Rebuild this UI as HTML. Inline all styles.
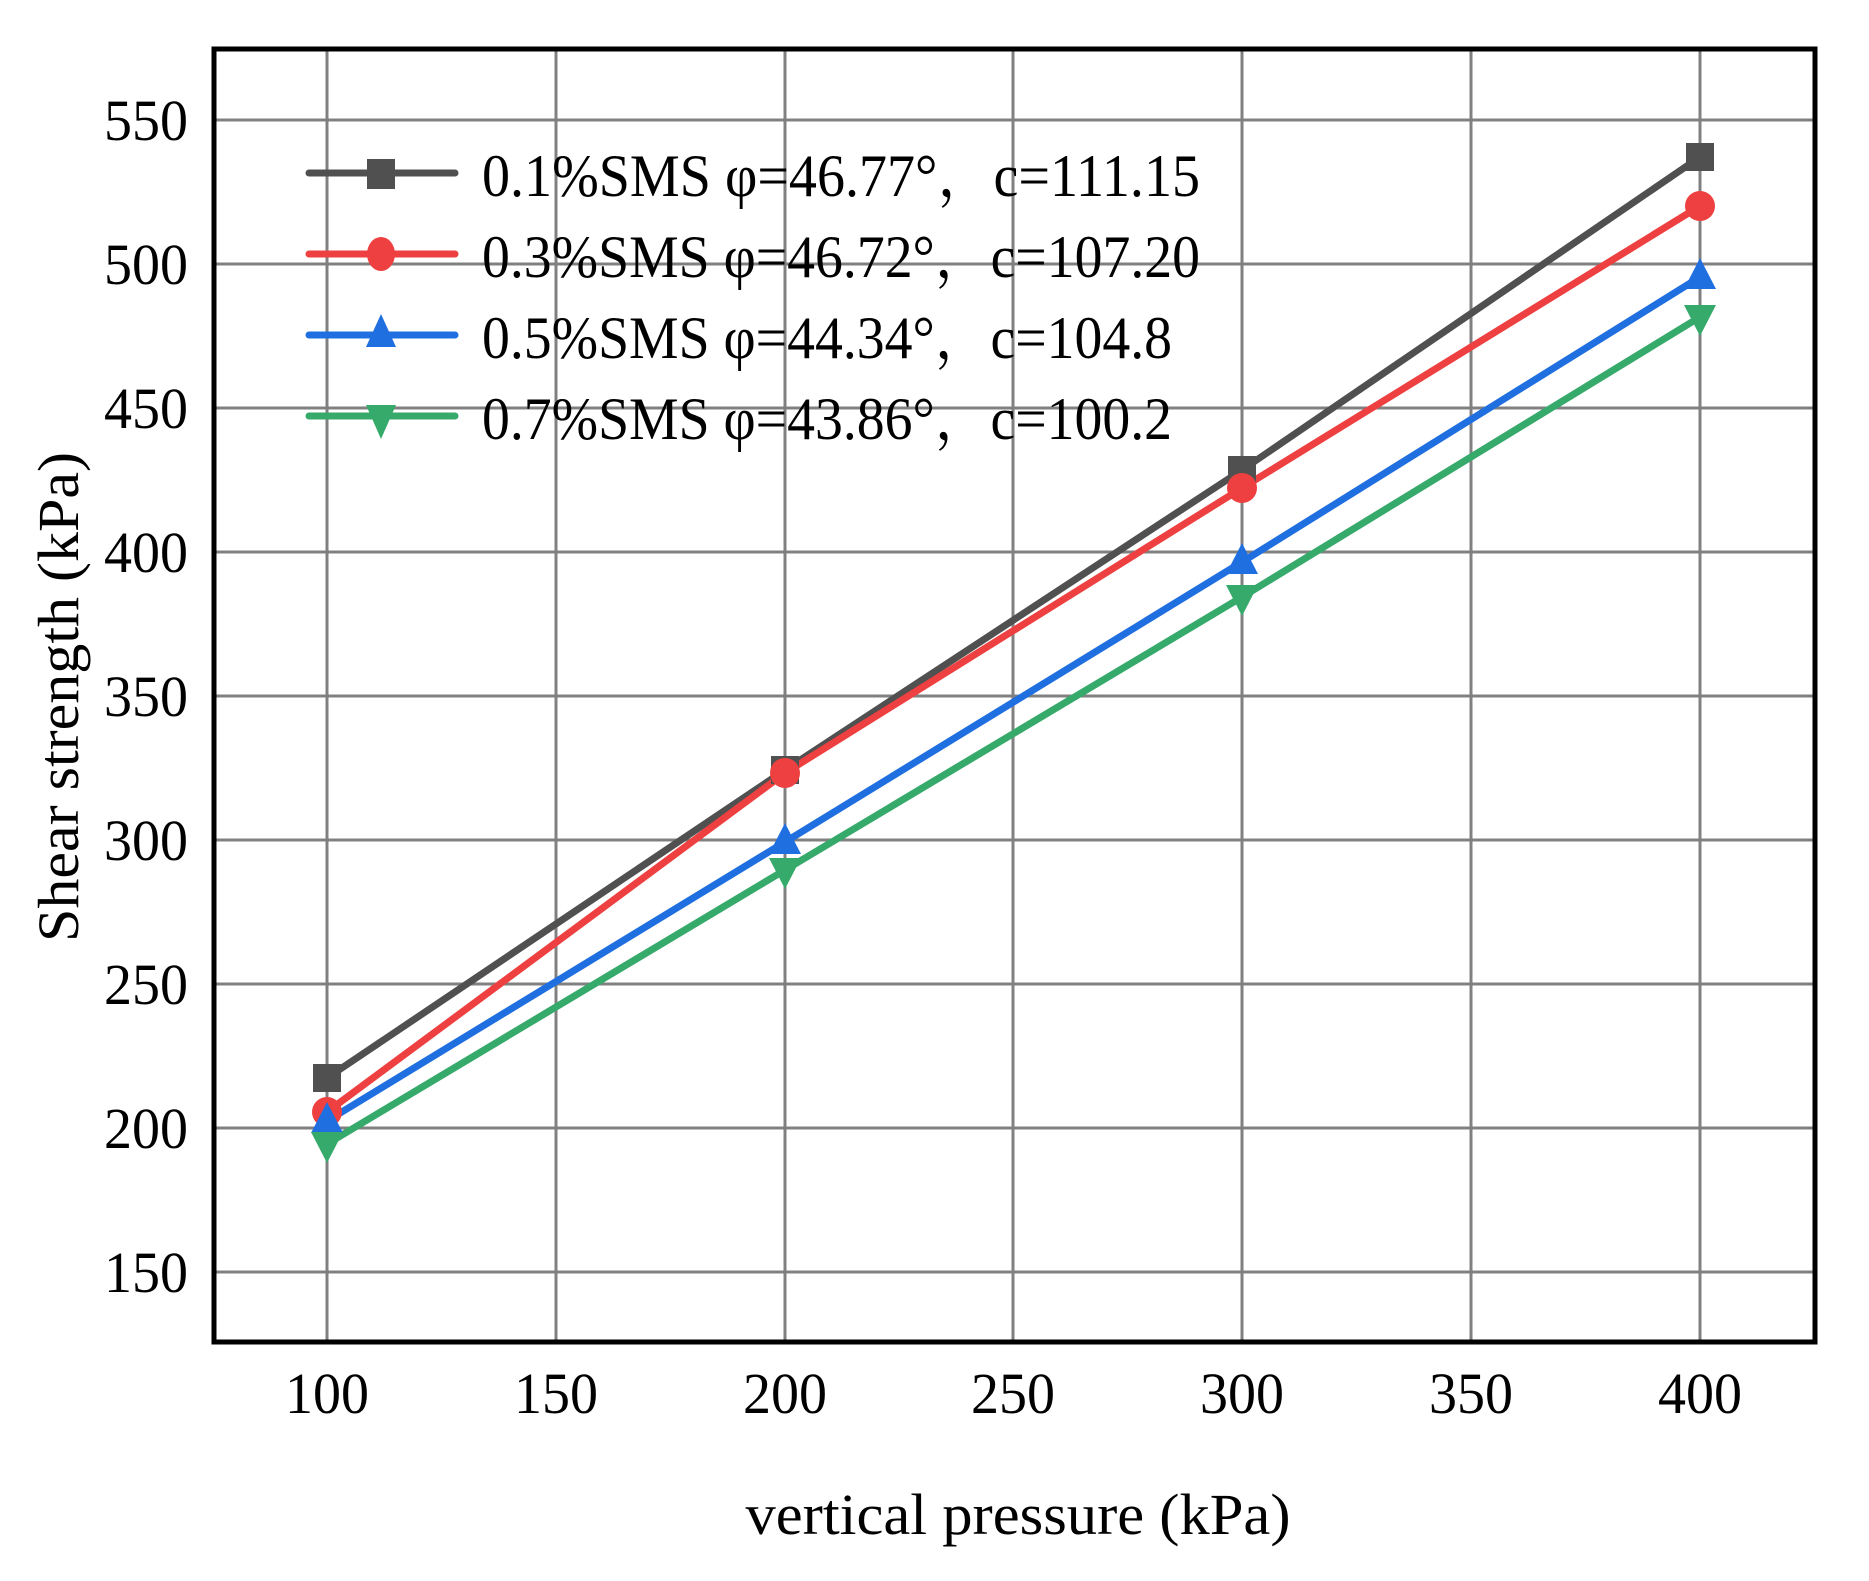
<!DOCTYPE html>
<html><head><style>html,body{margin:0;padding:0;background:#fff}</style></head>
<body>
<svg width="1869" height="1576" viewBox="0 0 1869 1576" xmlns="http://www.w3.org/2000/svg" font-family="Liberation Serif, serif">
<rect width="1869" height="1576" fill="#fff"/>
<g stroke="#808080" stroke-width="3">
<line x1="327" y1="49" x2="327" y2="1342"/>
<line x1="556" y1="49" x2="556" y2="1342"/>
<line x1="785" y1="49" x2="785" y2="1342"/>
<line x1="1013" y1="49" x2="1013" y2="1342"/>
<line x1="1242" y1="49" x2="1242" y2="1342"/>
<line x1="1471" y1="49" x2="1471" y2="1342"/>
<line x1="1700" y1="49" x2="1700" y2="1342"/>
<line x1="214" y1="120" x2="1815" y2="120"/>
<line x1="214" y1="264" x2="1815" y2="264"/>
<line x1="214" y1="408" x2="1815" y2="408"/>
<line x1="214" y1="552" x2="1815" y2="552"/>
<line x1="214" y1="696" x2="1815" y2="696"/>
<line x1="214" y1="840" x2="1815" y2="840"/>
<line x1="214" y1="984" x2="1815" y2="984"/>
<line x1="214" y1="1128" x2="1815" y2="1128"/>
<line x1="214" y1="1272" x2="1815" y2="1272"/>
</g>
<rect x="214" y="49" width="1601" height="1293" fill="none" stroke="#000" stroke-width="5"/>
<g font-size="58" fill="#000" text-anchor="end">
<text x="188" y="140" textLength="84" lengthAdjust="spacingAndGlyphs">550</text>
<text x="188" y="284" textLength="84" lengthAdjust="spacingAndGlyphs">500</text>
<text x="188" y="428" textLength="84" lengthAdjust="spacingAndGlyphs">450</text>
<text x="188" y="572" textLength="84" lengthAdjust="spacingAndGlyphs">400</text>
<text x="188" y="716" textLength="84" lengthAdjust="spacingAndGlyphs">350</text>
<text x="188" y="860" textLength="84" lengthAdjust="spacingAndGlyphs">300</text>
<text x="188" y="1004" textLength="84" lengthAdjust="spacingAndGlyphs">250</text>
<text x="188" y="1148" textLength="84" lengthAdjust="spacingAndGlyphs">200</text>
<text x="188" y="1292" textLength="84" lengthAdjust="spacingAndGlyphs">150</text>
</g>
<g font-size="58" fill="#000" text-anchor="middle">
<text x="327" y="1413" textLength="84" lengthAdjust="spacingAndGlyphs">100</text>
<text x="556" y="1413" textLength="84" lengthAdjust="spacingAndGlyphs">150</text>
<text x="785" y="1413" textLength="84" lengthAdjust="spacingAndGlyphs">200</text>
<text x="1013" y="1413" textLength="84" lengthAdjust="spacingAndGlyphs">250</text>
<text x="1242" y="1413" textLength="84" lengthAdjust="spacingAndGlyphs">300</text>
<text x="1471" y="1413" textLength="84" lengthAdjust="spacingAndGlyphs">350</text>
<text x="1700" y="1413" textLength="84" lengthAdjust="spacingAndGlyphs">400</text>
<text x="1018" y="1534" textLength="545" lengthAdjust="spacingAndGlyphs">vertical pressure (kPa)</text>
<text transform="translate(78,697) rotate(-90)" textLength="490" lengthAdjust="spacingAndGlyphs">Shear strength (kPa)</text>
</g>
<g fill="none" stroke-width="7" stroke-linejoin="round" stroke-linecap="round">
<polyline stroke="#505050" points="327,1078 785,770 1242,470 1700,157"/>
<polyline stroke="#ee4040" points="327,1112 785,773 1242,488 1700,206"/>
<polyline stroke="#1f6fe0" points="327,1121 785,842 1242,562 1700,277"/>
<polyline stroke="#35aa6a" points="327,1144 785,870 1242,597 1700,317"/>
</g>
<g>
<rect x="313" y="1064" width="28" height="28" fill="#505050"/>
<rect x="771" y="756" width="28" height="28" fill="#505050"/>
<rect x="1228" y="456" width="28" height="28" fill="#505050"/>
<rect x="1686" y="143" width="28" height="28" fill="#505050"/>
<circle cx="327" cy="1112" r="15" fill="#ee4040"/>
<circle cx="785" cy="773" r="15" fill="#ee4040"/>
<circle cx="1242" cy="488" r="15" fill="#ee4040"/>
<circle cx="1700" cy="206" r="15" fill="#ee4040"/>
<polygon points="327,1102 311,1133 343,1133" fill="#1f6fe0"/>
<polygon points="785,823 769,854 801,854" fill="#1f6fe0"/>
<polygon points="1242,543 1226,574 1258,574" fill="#1f6fe0"/>
<polygon points="1700,258 1684,289 1716,289" fill="#1f6fe0"/>
<polygon points="327,1163 311,1132 343,1132" fill="#35aa6a"/>
<polygon points="785,889 769,858 801,858" fill="#35aa6a"/>
<polygon points="1242,616 1226,585 1258,585" fill="#35aa6a"/>
<polygon points="1700,336 1684,305 1716,305" fill="#35aa6a"/>
</g>
<g stroke-width="7" stroke-linecap="round">
<line x1="309" y1="173" x2="455" y2="173" stroke="#505050"/>
<line x1="309" y1="254" x2="455" y2="254" stroke="#ee4040"/>
<line x1="309" y1="335" x2="455" y2="335" stroke="#1f6fe0"/>
<line x1="309" y1="416" x2="455" y2="416" stroke="#35aa6a"/>
</g>
<rect x="367" y="159" width="28" height="30" fill="#505050"/>
<ellipse cx="381" cy="254" rx="14" ry="17" fill="#ee4040"/>
<polygon points="381,314 366,347 396,347" fill="#1f6fe0"/>
<polygon points="381,439 366,405 396,405" fill="#35aa6a"/>
<g font-size="60" fill="#000" font-family="Liberation Serif, Noto Serif CJK SC, serif">
<text x="482" y="196" textLength="718" lengthAdjust="spacingAndGlyphs">0.1%SMS  φ=46.77°，c=111.15</text>
<text x="482" y="277" textLength="718" lengthAdjust="spacingAndGlyphs">0.3%SMS  φ=46.72°，c=107.20</text>
<text x="482" y="358" textLength="690" lengthAdjust="spacingAndGlyphs">0.5%SMS  φ=44.34°，c=104.8</text>
<text x="482" y="439" textLength="690" lengthAdjust="spacingAndGlyphs">0.7%SMS  φ=43.86°，c=100.2</text>
</g>
</svg>
</body></html>
